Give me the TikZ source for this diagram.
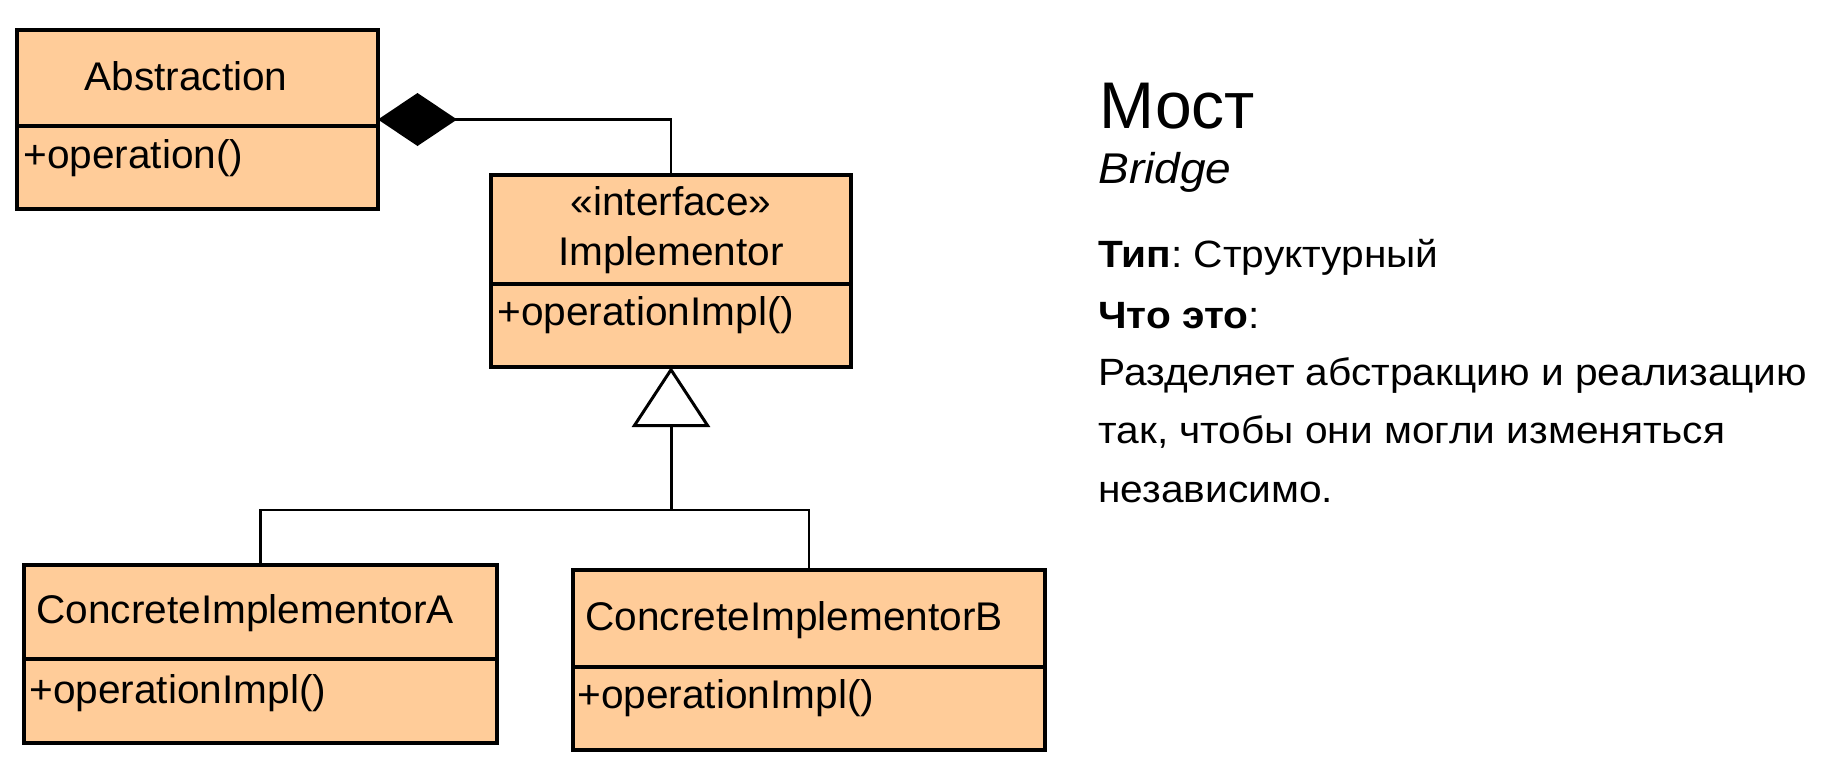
\documentclass[tikz,border=0pt]{standalone}
\usepackage{fontspec}
\setmainfont{Liberation Sans}
\newfontfamily\rfont[FakeStretch=1.07]{Liberation Sans}
\newfontfamily\bfont[FakeStretch=1.015]{Liberation Sans}
\usetikzlibrary{arrows.meta}
\definecolor{peach}{HTML}{FFCC99}
\frenchspacing
\begin{document}
\begin{tikzpicture}[x=0.5pt,y=-0.5pt,
  umlbox/.style={draw=black, fill=peach, line width=2pt, inner sep=0pt, outer sep=0pt},
  divider/.style={line width=1.6pt},
  boxtxt/.style={inner sep=0pt, font=\bfont\fontsize{20pt}{24pt}\selectfont},
  conn/.style={line width=1.35pt},
  rtxt/.style={inner sep=0pt, anchor=base west, font=\rfont\fontsize{19pt}{23pt}\selectfont}
]
\useasboundingbox (0,0) rectangle (1842,782);

% boxes
\node[umlbox, minimum width=180.5pt, minimum height=89.5pt] (abs) at (197.5,119.5) {};
\draw[divider] ([yshift=-48pt]abs.north west) -- ([yshift=-48pt]abs.north east);
\node[boxtxt, anchor=base] (absname) at (186,90) {Abstraction};
\node[boxtxt, anchor=base west] (absop) at (23,168) {+operation()};

\node[umlbox, minimum width=180pt, minimum height=96pt] (impl) at (671,271) {};
\draw[divider] ([yshift=-54.5pt]impl.north west) -- ([yshift=-54.5pt]impl.north east);
\node[boxtxt, anchor=base] (implst) at (671,215) {«interface»};
\node[boxtxt, anchor=base] (implname) at (671,265) {Implementor};
\node[boxtxt, anchor=base west] (implop) at (497,325) {+operationImpl()};

\node[umlbox, minimum width=236.5pt, minimum height=89pt] (cia) at (260.5,654) {};
\draw[divider] ([yshift=-47pt]cia.north west) -- ([yshift=-47pt]cia.north east);
\node[boxtxt, anchor=base west] (cianame) at (36,623) {ConcreteImplementorA};
\node[boxtxt, anchor=base west] (ciaop) at (29,703) {+operationImpl()};

\node[umlbox, minimum width=236pt, minimum height=90pt] (cib) at (809,660) {};
\draw[divider] ([yshift=-48.5pt]cib.north west) -- ([yshift=-48.5pt]cib.north east);
\node[boxtxt, anchor=base west] (cibname) at (585,630) {ConcreteImplementorB};
\node[boxtxt, anchor=base west] (cibop) at (577,708) {+operationImpl()};

% connectors
\draw[conn, {Diamond[length=39.5pt,width=26.5pt]}-] (abs.east) -| (impl.north);
\coordinate (j) at (671,510);
\draw[conn, line width=1.5pt, -{Triangle[open, length=30pt, width=39pt, fill=white]}] (j) -- (impl.south);
\draw[conn] (cia.north) |- (j) -| (cib.north);

% description
\node[rtxt, font=\fontsize{33pt}{38pt}\selectfont] (title) at (1099,128) {Мост};
\node[rtxt, font=\rfont\fontsize{21.5pt}{26pt}\selectfont\itshape] (sub) at (1098,183) {Bridge};
\node[rtxt] (type) at (1098,267) {\textbf{Тип}: Структурный};
\node[rtxt] (what) at (1098,328) {\textbf{Что это}:};
\node[rtxt] (d1) at (1098,385) {Разделяет абстракцию и реализацию};
\node[rtxt] (d2) at (1098,443) {так, чтобы они могли изменяться};
\node[rtxt] (d3) at (1098,502) {независимо.};
\end{tikzpicture}
\end{document}
